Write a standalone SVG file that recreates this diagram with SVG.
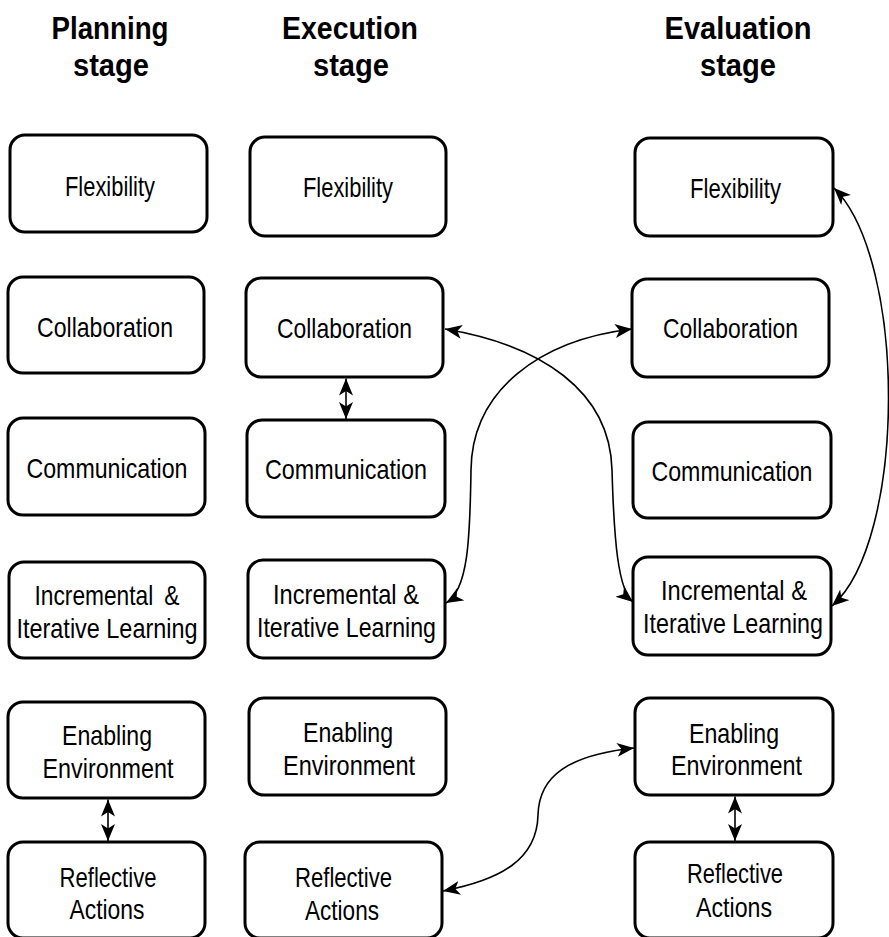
<svg xmlns="http://www.w3.org/2000/svg" width="889" height="937" viewBox="0 0 889 937">
<style>
  .box rect { fill: #ffffff; stroke: #000000; stroke-width: 3; }
  .box text, .hdr { font-family: "Liberation Sans", Arial, sans-serif; fill: #000000; text-anchor: middle; }
  .box text { font-size: 28.5px; }
  .hdr { font-size: 31px; font-weight: bold; }
  .conn path { fill: none; stroke: #000000; stroke-width: 1.6; }
</style>
<defs>
  <marker id="ah" markerUnits="userSpaceOnUse" markerWidth="18" markerHeight="15" viewBox="0 0 18 15" refX="17" refY="7" orient="auto-start-reverse">
    <path d="M0,0 L17,7 L0,14 L4.5,7 Z" fill="#000000"/>
  </marker>
</defs>
<rect width="889" height="937" fill="#ffffff"/>

<g id="headers">
  <text class="hdr" x="110" y="39" textLength="117" lengthAdjust="spacingAndGlyphs">Planning</text>
  <text class="hdr" x="111" y="76" textLength="76" lengthAdjust="spacingAndGlyphs">stage</text>
  <text class="hdr" x="350" y="39" textLength="136" lengthAdjust="spacingAndGlyphs">Execution</text>
  <text class="hdr" x="351" y="76" textLength="76" lengthAdjust="spacingAndGlyphs">stage</text>
  <text class="hdr" x="738" y="39" textLength="147" lengthAdjust="spacingAndGlyphs">Evaluation</text>
  <text class="hdr" x="738" y="76" textLength="76" lengthAdjust="spacingAndGlyphs">stage</text>
</g>

<!-- Planning stage -->
<g id="p-flex" class="box"><rect x="10" y="135" width="197" height="97" rx="15"/><text x="110" y="196" textLength="90" lengthAdjust="spacingAndGlyphs">Flexibility</text></g>
<g id="p-collab" class="box"><rect x="8" y="277" width="196" height="96" rx="15"/><text x="105" y="337" textLength="136" lengthAdjust="spacingAndGlyphs">Collaboration</text></g>
<g id="p-comm" class="box"><rect x="8" y="418" width="197" height="97" rx="15"/><text x="107" y="478" textLength="161" lengthAdjust="spacingAndGlyphs">Communication</text></g>
<g id="p-inc" class="box"><rect x="9" y="562" width="196" height="96" rx="15"/><text x="107" y="605" textLength="145" lengthAdjust="spacingAndGlyphs" word-spacing="6">Incremental &amp;</text><text x="107" y="638" textLength="181" lengthAdjust="spacingAndGlyphs">Iterative Learning</text></g>
<g id="p-env" class="box"><rect x="8" y="702" width="197" height="96" rx="15"/><text x="107" y="745" textLength="90" lengthAdjust="spacingAndGlyphs">Enabling</text><text x="108" y="778" textLength="131" lengthAdjust="spacingAndGlyphs">Environment</text></g>
<g id="p-refl" class="box"><rect x="8" y="842" width="197" height="96" rx="15"/><text x="108" y="887" textLength="97" lengthAdjust="spacingAndGlyphs">Reflective</text><text x="107" y="919" textLength="75" lengthAdjust="spacingAndGlyphs">Actions</text></g>

<!-- Execution stage -->
<g id="e-flex" class="box"><rect x="250" y="137" width="196" height="99" rx="15"/><text x="348" y="197" textLength="90" lengthAdjust="spacingAndGlyphs">Flexibility</text></g>
<g id="e-collab" class="box"><rect x="246" y="278" width="197" height="99" rx="15"/><text x="344.5" y="338" textLength="135" lengthAdjust="spacingAndGlyphs">Collaboration</text></g>
<g id="e-comm" class="box"><rect x="247" y="420" width="198" height="97" rx="15"/><text x="346" y="479" textLength="162" lengthAdjust="spacingAndGlyphs">Communication</text></g>
<g id="e-inc" class="box"><rect x="248" y="560" width="197" height="98" rx="15"/><text x="346" y="604" textLength="146" lengthAdjust="spacingAndGlyphs">Incremental &amp;</text><text x="346.5" y="637" textLength="179" lengthAdjust="spacingAndGlyphs">Iterative Learning</text></g>
<g id="e-env" class="box"><rect x="249" y="698" width="197" height="97" rx="15"/><text x="348" y="742" textLength="90" lengthAdjust="spacingAndGlyphs">Enabling</text><text x="349" y="775" textLength="132" lengthAdjust="spacingAndGlyphs">Environment</text></g>
<g id="e-refl" class="box"><rect x="245" y="842" width="197" height="96" rx="15"/><text x="343.5" y="887" textLength="97" lengthAdjust="spacingAndGlyphs">Reflective</text><text x="342" y="920" textLength="74" lengthAdjust="spacingAndGlyphs">Actions</text></g>

<!-- Evaluation stage -->
<g id="v-flex" class="box"><rect x="635" y="138" width="198" height="98" rx="15"/><text x="735.5" y="198" textLength="91" lengthAdjust="spacingAndGlyphs">Flexibility</text></g>
<g id="v-collab" class="box"><rect x="632" y="279" width="197" height="98" rx="15"/><text x="730.5" y="338" textLength="135" lengthAdjust="spacingAndGlyphs">Collaboration</text></g>
<g id="v-comm" class="box"><rect x="633" y="422" width="198" height="96" rx="15"/><text x="732" y="481" textLength="161" lengthAdjust="spacingAndGlyphs">Communication</text></g>
<g id="v-inc" class="box"><rect x="633" y="557" width="198" height="98" rx="15"/><text x="734" y="600" textLength="146" lengthAdjust="spacingAndGlyphs">Incremental &amp;</text><text x="733" y="633" textLength="180" lengthAdjust="spacingAndGlyphs">Iterative Learning</text></g>
<g id="v-env" class="box"><rect x="635" y="698" width="198" height="97" rx="15"/><text x="734" y="743" textLength="90" lengthAdjust="spacingAndGlyphs">Enabling</text><text x="736.5" y="775" textLength="131" lengthAdjust="spacingAndGlyphs">Environment</text></g>
<g id="v-refl" class="box"><rect x="635" y="842" width="198" height="96" rx="15"/><text x="735" y="883" textLength="96" lengthAdjust="spacingAndGlyphs">Reflective</text><text x="734" y="917" textLength="76" lengthAdjust="spacingAndGlyphs">Actions</text></g>

<g id="connectors" class="conn">
  <path d="M346,378.5 L346,419" marker-start="url(#ah)" marker-end="url(#ah)"/>
  <path d="M108,799.5 L108,841" marker-start="url(#ah)" marker-end="url(#ah)"/>
  <path d="M735,796.5 L735,841" marker-start="url(#ah)" marker-end="url(#ah)"/>
  <path d="M445,329 C540,345 610,390 612,470 C614,540 618,590 633,602" marker-start="url(#ah)" marker-end="url(#ah)"/>
  <path d="M632,329 C540,340 472,390 471,470 C470,540 468,590 446,603" marker-start="url(#ah)" marker-end="url(#ah)"/>
  <path d="M834,188 C907,260 907,540 832,606" marker-start="url(#ah)" marker-end="url(#ah)"/>
  <path d="M443,891 C500,880 537,860 538,815 C539,775 570,755 634,748" marker-start="url(#ah)" marker-end="url(#ah)"/>
</g>
</svg>
